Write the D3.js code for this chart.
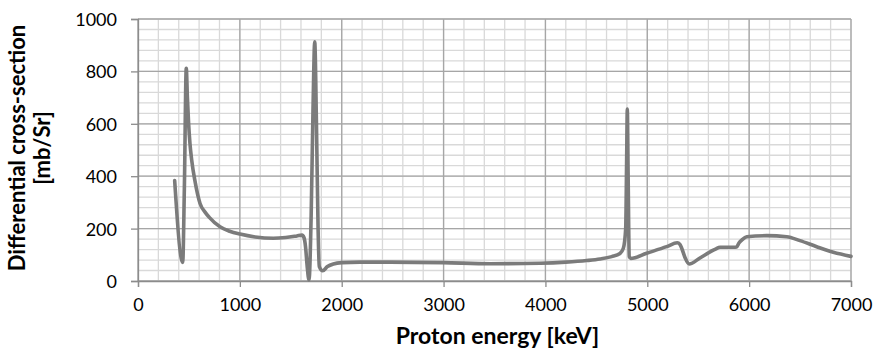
<!DOCTYPE html>
<html>
<head>
<meta charset="utf-8">
<script src="https://cdn.jsdelivr.net/npm/d3@7"></script>
<style>
  html, body { margin: 0; padding: 0; background: #fff; }
  svg { display: block; }
  .tick text { font-family: Lato, "Open Sans", sans-serif; font-size: 18px; fill: #000; }
  .title { font-family: Lato, "Open Sans", sans-serif; font-size: 23px; font-weight: bold; fill: #000; }
  .ytitle { font-size: 22px; }
</style>
</head>
<body>
<svg id="chart" width="878" height="351"></svg>
<script>
// Proton energy [keV]
const energy = [
  360, 439, 455, 474, 485, 497, 510, 527, 560, 609, 660, 700, 805, 900, 1001, 1150,
  1329, 1450, 1560, 1610, 1630, 1645, 1660, 1679, 1700, 1718, 1735, 1752, 1768,
  1780, 1813, 1860, 1918, 2000, 2179, 2474, 2997, 3456, 3947, 4200, 4405, 4536,
  4650, 4732, 4765, 4788, 4797, 4804, 4812, 4823, 4837, 4994, 5190, 5295, 5320,
  5338, 5370, 5412, 5517, 5648, 5670, 5714, 5845, 5877, 5900, 5927, 5976, 6173,
  6369, 6499, 6663, 6826, 7000
];
// Differential cross-section [mb/Sr]
const crossSection = [
  383, 71, 350, 812, 700, 600, 525, 462, 380, 296, 262, 243, 207, 190, 179, 168,
  163, 166, 172, 175, 165, 130, 60, 4, 250, 650, 913, 600, 200,
  55, 39, 55, 65, 70, 72, 72, 70, 66, 68, 72, 78, 84,
  93, 105, 125, 200, 450, 656, 400, 93, 86, 106, 131, 146, 140,
  125, 90, 65, 88, 118, 122, 129, 129, 130, 145, 156, 169, 173,
  169, 154, 131, 110, 94
];
const xTicks = [0, 1000, 2000, 3000, 4000, 5000, 6000, 7000];
const yTicks = [0, 200, 400, 600, 800, 1000];
const xTitle = "Proton energy [keV]";
const yTitle = ["Differential cross-section", "[mb/Sr]"];

const plot = { left: 138, right: 851, top: 19, bottom: 281 };
const svg = d3.select("#chart");

const x = d3.scaleLinear().domain([0, 7000]).range([plot.left, plot.right]);
const y = d3.scaleLinear().domain([0, 1000]).range([plot.bottom, plot.top]);

// minor grid: five subdivisions per major step
const xMinor = d3.range(0, 7000 + 1, 200);
const yMinor = d3.range(0, 1000 + 1, 40);
const grid = svg.append("g");
grid.selectAll(".vminor").data(xMinor).join("line")
  .attr("x1", d => x(d)).attr("x2", d => x(d))
  .attr("y1", plot.top).attr("y2", plot.bottom)
  .attr("stroke", "#d9d9d9").attr("stroke-width", 1.3);
grid.selectAll(".hminor").data(yMinor).join("line")
  .attr("x1", plot.left).attr("x2", plot.right)
  .attr("y1", d => y(d)).attr("y2", d => y(d))
  .attr("stroke", "#d9d9d9").attr("stroke-width", 1.3);
// major grid
grid.selectAll(".vmajor").data(xTicks).join("line")
  .attr("x1", d => x(d)).attr("x2", d => x(d))
  .attr("y1", plot.top).attr("y2", plot.bottom)
  .attr("stroke", "#a6a6a6").attr("stroke-width", 1.3);
grid.selectAll(".hmajor").data(yTicks).join("line")
  .attr("x1", plot.left).attr("x2", plot.right)
  .attr("y1", d => y(d)).attr("y2", d => y(d))
  .attr("stroke", "#a6a6a6").attr("stroke-width", 1.3);

// axes
const xAxis = svg.append("g")
  .attr("transform", `translate(0,${plot.bottom})`)
  .call(d3.axisBottom(x).tickValues(xTicks).tickFormat(d3.format("d")).tickSize(6).tickPadding(11));
const yAxis = svg.append("g")
  .attr("transform", `translate(${plot.left},0)`)
  .call(d3.axisLeft(y).tickValues(yTicks).tickFormat(d3.format("d")).tickSize(7).tickPadding(14));
[xAxis, yAxis].forEach(a => {
  a.select(".domain").attr("stroke", "#8c8c8c").attr("stroke-width", 1.3);
  a.selectAll(".tick line").attr("stroke", "#8c8c8c").attr("stroke-width", 1.3);
});
yAxis.selectAll(".tick text").attr("dy", "0.36em");

// data curve
const pts = energy.map((e, i) => [e, crossSection[i]]);
const line = d3.line()
  .x(d => x(d[0]))
  .y(d => y(d[1]))
  .curve(d3.curveMonotoneX);
svg.append("path")
  .datum(pts)
  .attr("d", line)
  .attr("fill", "none")
  .attr("stroke", "#7b7b7b")
  .attr("stroke-width", 3.6)
  .attr("stroke-linejoin", "round")
  .attr("stroke-linecap", "round");

// axis titles
svg.append("text").attr("class", "title")
  .attr("x", (plot.left + plot.right) / 2 + 3)
  .attr("y", 344)
  .attr("text-anchor", "middle")
  .text(xTitle);
const yt = svg.append("text").attr("class", "title ytitle")
  .attr("transform", "translate(25,148) rotate(-90)")
  .attr("text-anchor", "middle");
yt.selectAll("tspan").data(yTitle).join("tspan")
  .attr("x", 0)
  .attr("dy", (d, i) => i === 0 ? 0 : 25)
  .text(d => d);
</script>
</body>
</html>
